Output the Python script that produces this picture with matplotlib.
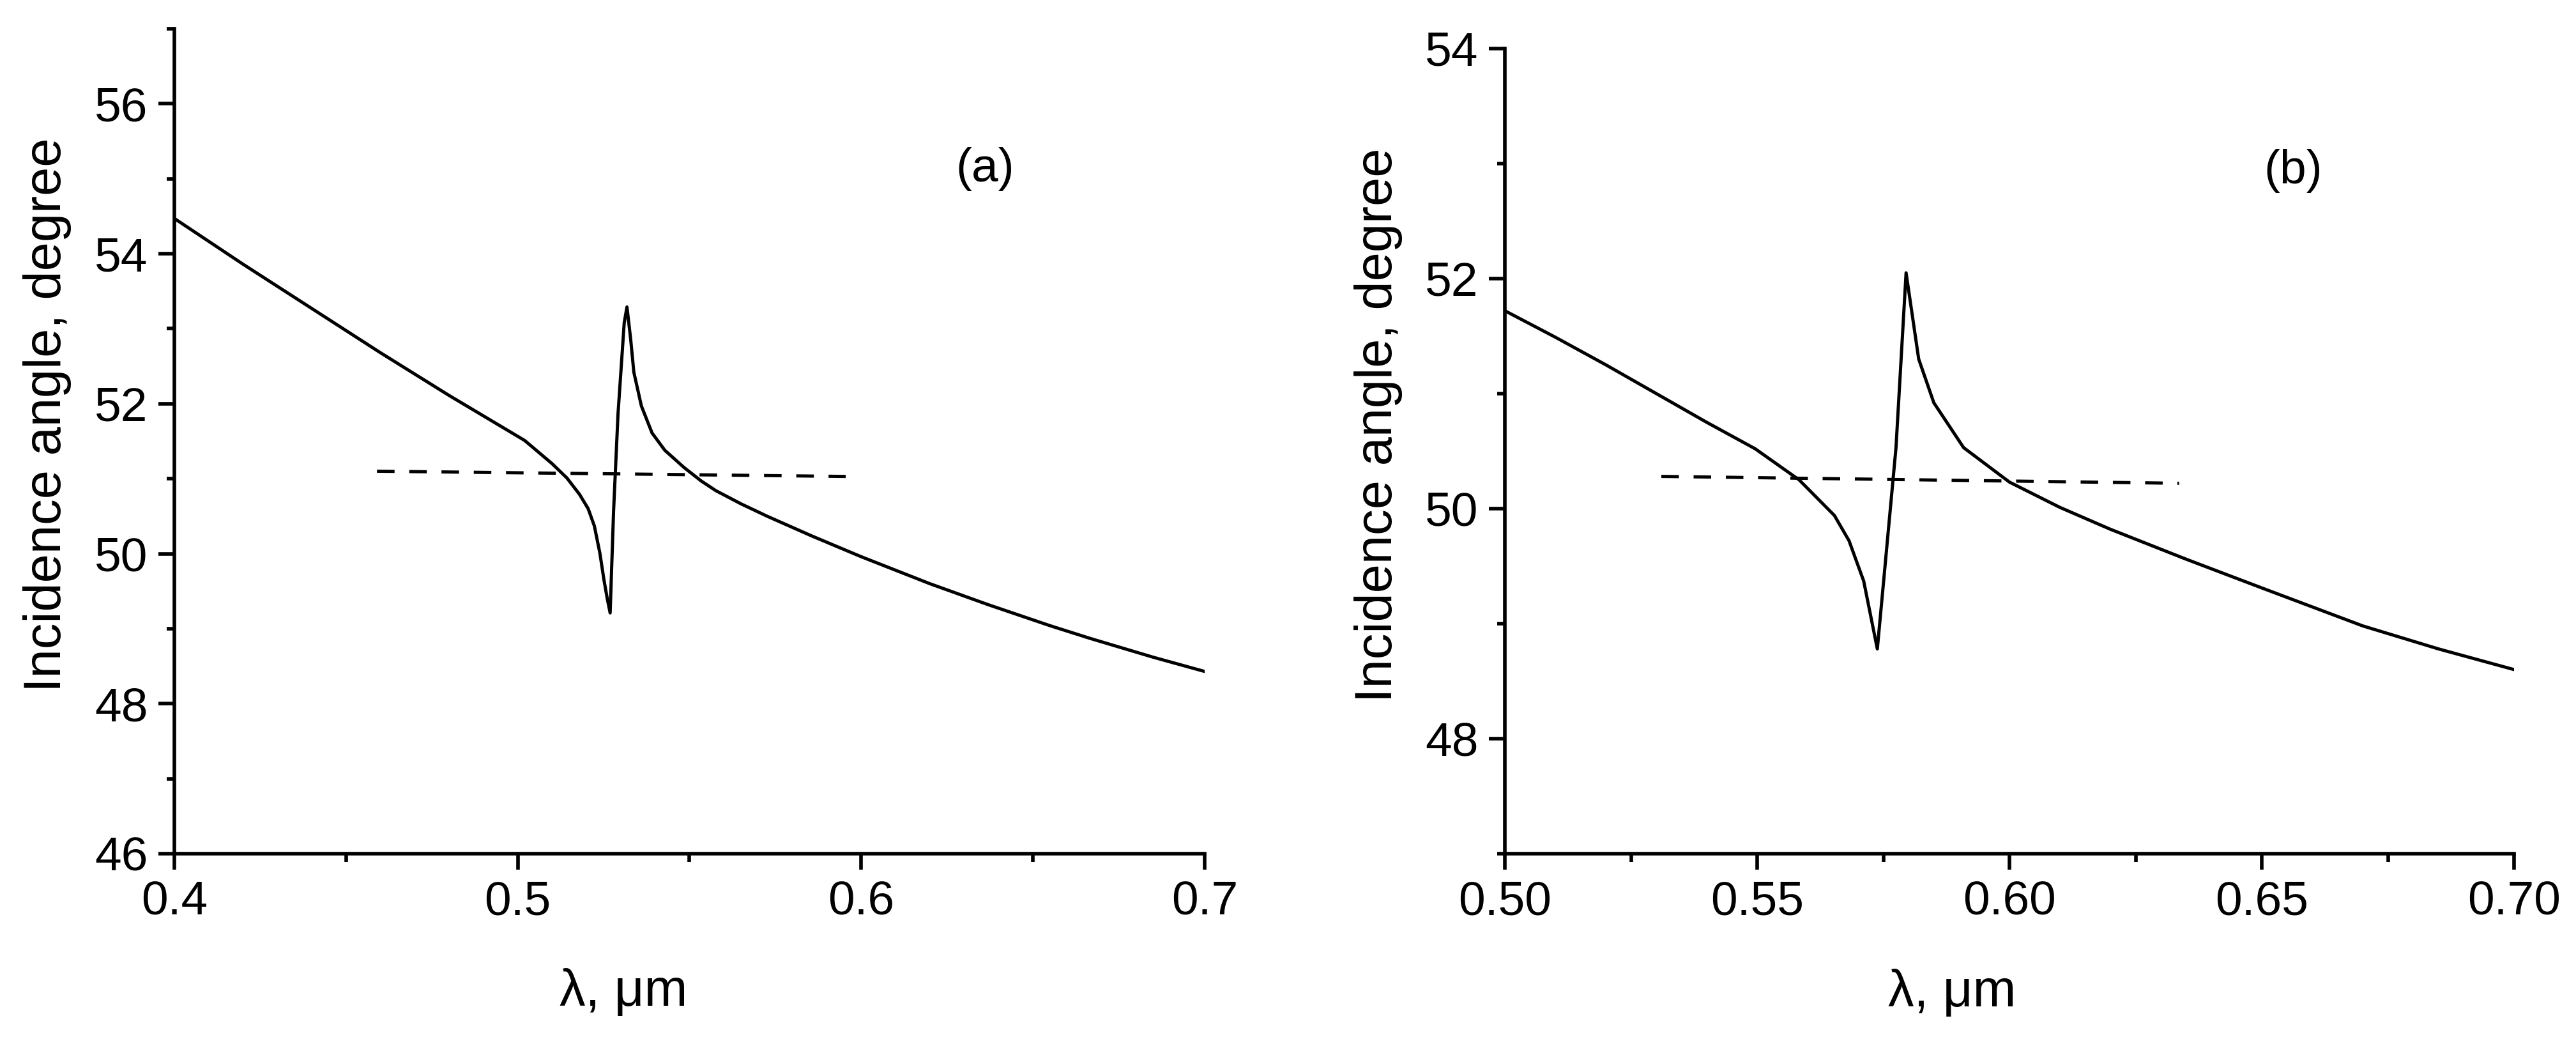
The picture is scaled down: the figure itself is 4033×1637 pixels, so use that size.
import matplotlib
matplotlib.use('Agg')
import matplotlib.pyplot as plt
from matplotlib.ticker import MultipleLocator, FormatStrFormatter

plt.rcParams['font.family'] = ['Liberation Sans', 'DejaVu Sans']

# (a) resonance curve, wavelength in um vs incidence angle in degree
lam_a = [0.400, 0.420, 0.440, 0.460, 0.480, 0.502, 0.510, 0.5143, 0.518, 0.5205,
         0.5223, 0.5239, 0.5251, 0.5261, 0.5269, 0.5279, 0.5292, 0.5310, 0.5318,
         0.5329, 0.5338, 0.5360, 0.5391, 0.5428, 0.5484, 0.5534, 0.5577, 0.565,
         0.5726, 0.5857, 0.600, 0.620, 0.637, 0.655, 0.6667, 0.685, 0.700]
ang_a = [54.47, 53.86, 53.27, 52.68, 52.11, 51.51, 51.20, 51.01, 50.79, 50.60,
         50.37, 50.01, 49.65, 49.39, 49.21, 50.57, 51.87, 53.08, 53.29,
         52.85, 52.42, 51.97, 51.61, 51.38, 51.15, 50.97, 50.84, 50.665,
         50.50, 50.235, 49.96, 49.60, 49.32, 49.04, 48.87, 48.62, 48.43]
dash_lam_a = [0.459, 0.5955]
dash_ang_a = [51.10, 51.03]

# (b)
lam_b = [0.500, 0.510, 0.520, 0.530, 0.540, 0.5496, 0.5583, 0.5653, 0.5682, 0.5711,
         0.5738, 0.5752, 0.5775, 0.5795, 0.5820, 0.5850, 0.5909, 0.600, 0.610,
         0.620, 0.635, 0.650, 0.670, 0.685, 0.700]
ang_b = [51.72, 51.49, 51.25, 51.00, 50.75, 50.52, 50.25, 49.94, 49.72, 49.37,
         48.78, 49.44, 50.53, 52.05, 51.30, 50.92, 50.53, 50.23, 50.01,
         49.82, 49.56, 49.31, 48.98, 48.78, 48.60]
dash_lam_b = [0.531, 0.6336]
dash_ang_b = [50.28, 50.22]

fig = plt.figure(figsize=(4033 / 300, 1637 / 300), dpi=300)
ax1 = fig.add_axes([0.0677, 0.1839, 0.3999, 0.7886])
ax2 = fig.add_axes([0.5842, 0.1839, 0.3918, 0.7697])

lw = 1.2
for ax in (ax1, ax2):
    for s in ('top', 'right'):
        ax.spines[s].set_visible(False)
    for s in ('left', 'bottom'):
        ax.spines[s].set_linewidth(1.35)
    ax.tick_params(which='major', direction='out', length=6, width=1.35,
                   labelsize=18, pad=4)
    ax.tick_params(which='minor', direction='out', length=3, width=1.35)
    ax.set_ylabel('Incidence angle, degree', fontsize=19.5)
    ax.set_xlabel('λ, μm', fontsize=19.5)

ax1.plot(lam_a, ang_a, color='black', lw=lw)
ax1.plot(dash_lam_a, dash_ang_a, color='black', lw=lw, dashes=(5.5, 4.6))
ax1.set_xlim(0.4, 0.7)
ax1.set_ylim(46, 57)
ax1.xaxis.set_major_locator(MultipleLocator(0.1))
ax1.xaxis.set_minor_locator(MultipleLocator(0.05))
ax1.xaxis.set_major_formatter(FormatStrFormatter('%.1f'))
ax1.yaxis.set_major_locator(MultipleLocator(2))
ax1.yaxis.set_minor_locator(MultipleLocator(1))
ax1.text(0.787, 0.830, '(a)', transform=ax1.transAxes, fontsize=18,
         ha='center', va='center')

ax2.plot(lam_b, ang_b, color='black', lw=lw)
ax2.plot(dash_lam_b, dash_ang_b, color='black', lw=lw, dashes=(5.5, 4.6))
ax2.set_xlim(0.5, 0.7)
ax2.set_ylim(47, 54)
ax2.xaxis.set_major_locator(MultipleLocator(0.05))
ax2.xaxis.set_minor_locator(MultipleLocator(0.025))
ax2.xaxis.set_major_formatter(FormatStrFormatter('%.2f'))
ax2.yaxis.set_major_locator(MultipleLocator(2))
ax2.yaxis.set_minor_locator(MultipleLocator(1))
ax2.text(0.781, 0.848, '(b)', transform=ax2.transAxes, fontsize=18,
         ha='center', va='center')

ax1.yaxis.set_label_coords(-0.100, 0.532)
ax2.yaxis.set_label_coords(-0.101, 0.532)
ax1.xaxis.set_label_coords(0.436, -0.139)
ax2.xaxis.set_label_coords(0.443, -0.143)

fig.savefig('out.png', dpi=300)
